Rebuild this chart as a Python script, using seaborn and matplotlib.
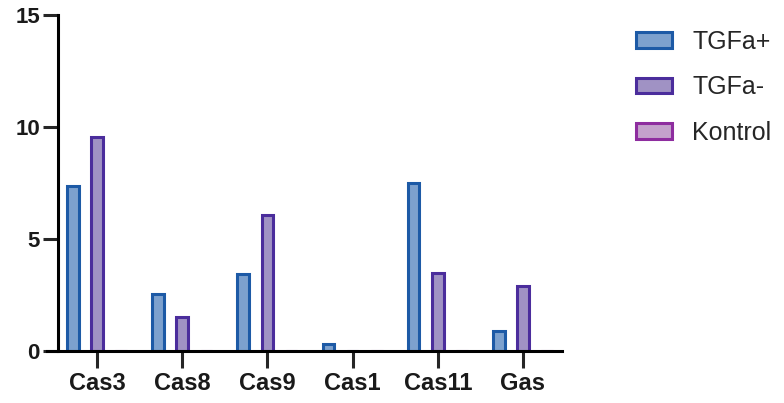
import matplotlib
matplotlib.use("Agg")
import matplotlib.pyplot as plt
import pandas as pd
import seaborn as sns

# Data
genes = ["Cas3", "Cas8", "Cas9", "Cas1", "Cas11", "Gas"]
groups = ["TGFa+", "TGFa-", "Kontrol"]
tgfa_pos = [7.35, 2.55, 3.45, 0.3, 7.5, 0.9]
tgfa_neg = [9.55, 1.5, 6.05, 0.0, 3.5, 2.9]
kontrol = [0.0, 0.0, 0.0, 0.0, 0.0, 0.0]

fill_colors = ["#6f9fdc", "#9c8acc", "#c99bd3"]
edge_colors = ["#1d5aa6", "#4b2d9c", "#8e2d9f"]


def main():
    df = pd.DataFrame({
        "gene": genes * 3,
        "group": [groups[0]] * 6 + [groups[1]] * 6 + [groups[2]] * 6,
        "value": tgfa_pos + tgfa_neg + kontrol,
    })

    sns.set_style("ticks")
    plt.rcParams["font.family"] = ["Liberation Sans", "DejaVu Sans"]

    fig = plt.figure(figsize=(7.84, 4.03), dpi=100)
    ax = fig.add_axes([47 / 784, 52 / 403, 515 / 784, 336 / 403])

    sns.barplot(data=df, x="gene", y="value", hue="group", hue_order=groups,
                order=genes, palette=fill_colors, width=0.85, gap=0.52,
                linewidth=2.2, legend=False, ax=ax)

    for cont, ec in zip(ax.containers, edge_colors):
        for bar in cont:
            bar.set_edgecolor(ec)
            bar.set_linewidth(2.2)

    ax.set_ylim(0, 15)
    ax.set_xlim(-0.587, 5.458)
    ax.set_yticks([0, 5, 10, 15])
    ax.set_xlabel("")
    ax.set_ylabel("")

    ax.spines["top"].set_visible(False)
    ax.spines["right"].set_visible(False)
    ax.spines["left"].set_position(("axes", 11 / 515))
    for sp in ["left", "bottom"]:
        ax.spines[sp].set_linewidth(2.2)
        ax.spines[sp].set_color("black")
        ax.spines[sp].set_zorder(5)

    ax.tick_params(axis="y", length=11, width=2.2, labelsize=16, pad=2)
    ax.tick_params(axis="x", length=12, width=2.2, labelsize=17, pad=3)
    for lab in ax.get_xticklabels() + ax.get_yticklabels():
        lab.set_fontweight("bold")
        lab.set_color("#1a1a1a")

    fig.legend(ax.containers, groups, loc="upper left",
               bbox_to_anchor=(636 / 784, 1 - 30 / 403), frameon=False,
               fontsize=18, handlelength=1.45, handleheight=0.6,
               handletextpad=0.8, labelspacing=0.85,
               borderpad=0, borderaxespad=0)

    fig.savefig("out.png", dpi=100)


if __name__ == "__main__":
    main()
